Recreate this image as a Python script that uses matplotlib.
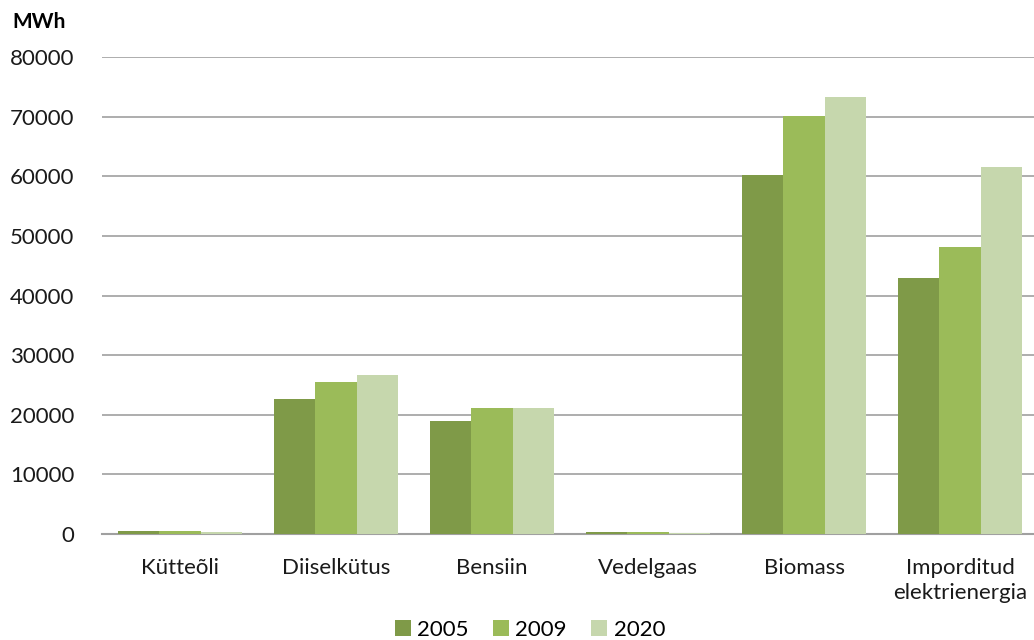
import matplotlib
matplotlib.use("Agg")
import matplotlib.pyplot as plt
import numpy as np

categories = ["Kütteõli", "Diiselkütus", "Bensiin", "Vedelgaas", "Biomass", "Imporditud\nelektrienergia"]
years = ["2005", "2009", "2020"]
v2005 = [500, 22650, 18950, 350, 60250, 42900]
v2009 = [450, 25500, 21050, 300, 70150, 48150]
v2020 = [400, 26700, 21050, 250, 73250, 61500]
colors = ["#7f9a48", "#9bbb59", "#c6d7ad"]
yticks = [0, 10000, 20000, 30000, 40000, 50000, 60000, 70000, 80000]

plt.rcParams['font.family'] = ['Lato', 'DejaVu Sans']

fig = plt.figure(figsize=(10.34, 6.4), dpi=100)
ax = fig.add_axes([102/1034, 1-534/640, 936/1034, (534-57)/640])

x = np.arange(len(categories))
w = 0.267
for i, (vals, c, lab) in enumerate(zip([v2005, v2009, v2020], colors, years)):
    ax.bar(x + (i-1)*w, vals, width=w, color=c, label=lab, zorder=3)

ax.set_xlim(-0.5, len(categories)-0.5)
ax.set_ylim(0, 80000)
ax.set_yticks(yticks)
ax.set_yticklabels([str(t) for t in yticks], fontsize=16, color="#1a1a1a")
ax.set_xticks(x)
ax.set_xticklabels(categories, fontsize=16, color="#1a1a1a", linespacing=1.35)
ax.tick_params(axis='both', length=0)
ax.tick_params(axis='y', pad=20)
ax.tick_params(axis='x', pad=17)
ax.grid(axis='y', color="#a0a0a0", linewidth=1.2, zorder=0)
for s in ["top", "right", "left"]:
    ax.spines[s].set_visible(False)
ax.spines["bottom"].set_color("#a0a0a0")
ax.spines["bottom"].set_linewidth(1.5)
ax.spines["bottom"].set_zorder(2)

fig.text(12/1034, 1-22/640, "MWh", fontsize=15, fontweight="bold", va="center", ha="left")

fig.legend(loc="center", bbox_to_anchor=(530/1034, 1-630/640), ncol=3, frameon=False,
           fontsize=16, handlelength=0.7, handleheight=0.7, handletextpad=0.3, columnspacing=1.1)

fig.savefig("out.png", dpi=100)
